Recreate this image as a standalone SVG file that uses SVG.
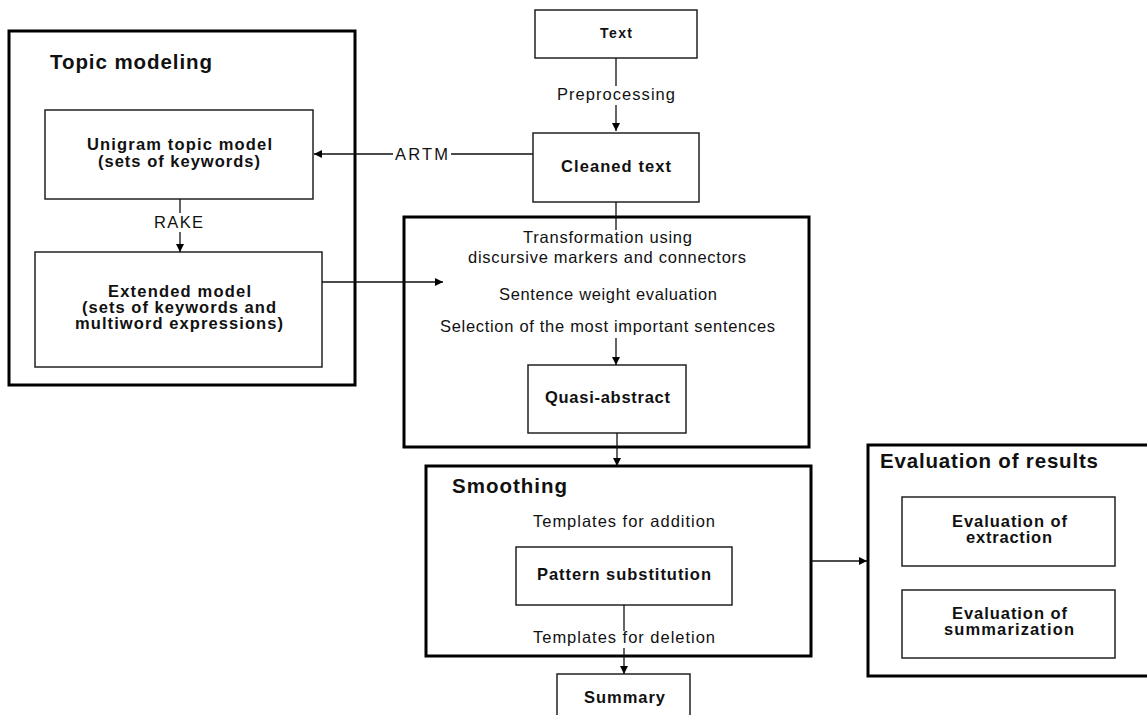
<svg xmlns="http://www.w3.org/2000/svg" width="1147" height="715" viewBox="0 0 1147 715">
<style>
text{font-family:"Liberation Sans",Arial,sans-serif;fill:#111}
.t{font-size:20.5px;font-weight:bold}
.b{font-size:16.5px;font-weight:bold;text-anchor:middle}
.bs{font-size:14px;font-weight:bold;text-anchor:middle}
.r{font-size:16.5px;text-anchor:middle}
.outer{fill:#fff;stroke:#000;stroke-width:3}
.box{fill:#fff;stroke:#222;stroke-width:1.5}
.c{fill:none;stroke:#111;stroke-width:1.3}
</style>
<defs>
<marker id="ah" viewBox="0 0 10 10" refX="10" refY="5" markerWidth="8" markerHeight="8" markerUnits="userSpaceOnUse" orient="auto">
<path d="M0,0 L10,5 L0,10 z" fill="#000"/>
</marker>
</defs>
<rect width="1147" height="715" fill="#fff"/>

<g id="topic-modeling">
<rect class="outer" x="9" y="31" width="346" height="354"/>
<text class="t" x="50" y="69" textLength="162" lengthAdjust="spacing">Topic modeling</text>
</g>
<g id="unigram">
<rect class="box" x="45" y="110" width="268" height="89"/>
<text class="b" x="179.5" y="150" textLength="185" lengthAdjust="spacing">Unigram topic model</text>
<text class="b" x="179" y="167" textLength="162" lengthAdjust="spacing">(sets of keywords)</text>
</g>
<g id="extended">
<rect class="box" x="35" y="252" width="287" height="115"/>
<text class="b" x="179.5" y="297" textLength="143" lengthAdjust="spacing">Extended model</text>
<text class="b" x="179" y="313" textLength="194" lengthAdjust="spacing">(sets of keywords and</text>
<text class="b" x="179" y="329" textLength="208" lengthAdjust="spacing">multiword expressions)</text>
</g>

<g id="text-node">
<rect class="box" x="535" y="10" width="162" height="48"/>
<text class="bs" x="616" y="38" textLength="32" lengthAdjust="spacing">Text</text>
</g>
<g id="cleaned">
<rect class="box" x="533" y="133" width="166" height="69"/>
<text class="b" x="616" y="172" textLength="110" lengthAdjust="spacing">Cleaned text</text>
</g>

<g id="transformation">
<rect class="outer" x="404" y="217" width="405" height="230"/>
<text class="r" x="607.5" y="243" textLength="169" lengthAdjust="spacing">Transformation using</text>
<text class="r" x="607" y="263" textLength="278" lengthAdjust="spacing">discursive markers and connectors</text>
<text class="r" x="608" y="300" textLength="218" lengthAdjust="spacing">Sentence weight evaluation</text>
<text class="r" x="607.5" y="332" textLength="335" lengthAdjust="spacing">Selection of the most important sentences</text>
</g>
<g id="quasi-abstract">
<rect class="box" x="528" y="365" width="158" height="68"/>
<text class="b" x="607.5" y="403" textLength="125" lengthAdjust="spacing">Quasi-abstract</text>
</g>

<g id="smoothing">
<rect class="outer" x="426" y="466" width="385" height="190"/>
<text class="t" x="452" y="493" textLength="115" lengthAdjust="spacing">Smoothing</text>
<text class="r" x="624" y="527" textLength="182" lengthAdjust="spacing">Templates for addition</text>
<text class="r" x="624" y="643" textLength="182" lengthAdjust="spacing">Templates for deletion</text>
</g>
<g id="pattern">
<rect class="box" x="516" y="547" width="216" height="58"/>
<text class="b" x="624" y="580" textLength="174" lengthAdjust="spacing">Pattern substitution</text>
</g>
<g id="summary">
<rect class="box" x="557" y="674" width="133" height="50"/>
<text class="b" x="624.5" y="703" textLength="81" lengthAdjust="spacing">Summary</text>
</g>

<g id="evaluation">
<rect class="outer" x="868" y="445" width="290" height="231"/>
<text class="t" x="880" y="468" textLength="218" lengthAdjust="spacing">Evaluation of results</text>
</g>
<g id="eval-extraction">
<rect class="box" x="902" y="497" width="213" height="69"/>
<text class="b" x="1009.5" y="527" textLength="115" lengthAdjust="spacing">Evaluation of</text>
<text class="b" x="1009" y="543" textLength="86" lengthAdjust="spacing">extraction</text>
</g>
<g id="eval-summarization">
<rect class="box" x="902" y="590" width="213" height="68"/>
<text class="b" x="1009.5" y="619" textLength="115" lengthAdjust="spacing">Evaluation of</text>
<text class="b" x="1009" y="635" textLength="130" lengthAdjust="spacing">summarization</text>
</g>

<g id="connectors">
<line class="c" x1="616" y1="58" x2="616" y2="86"/>
<line class="c" x1="616" y1="105" x2="616" y2="131" marker-end="url(#ah)"/>
<text class="r" x="616" y="100" textLength="118" lengthAdjust="spacing">Preprocessing</text>

<line class="c" x1="533" y1="154" x2="451" y2="154"/>
<line class="c" x1="393" y1="154" x2="314" y2="154" marker-end="url(#ah)"/>
<text class="r" x="421.5" y="160" textLength="53" lengthAdjust="spacing">ARTM</text>

<line class="c" x1="180" y1="199" x2="180" y2="213"/>
<line class="c" x1="180" y1="232" x2="180" y2="252" marker-end="url(#ah)"/>
<text class="r" x="178.5" y="228" textLength="49" lengthAdjust="spacing">RAKE</text>

<line class="c" x1="322" y1="282" x2="443" y2="282" marker-end="url(#ah)"/>
<line class="c" x1="616" y1="202" x2="616" y2="230"/>
<line class="c" x1="616" y1="338" x2="616" y2="365" marker-end="url(#ah)"/>
<line class="c" x1="617" y1="433" x2="617" y2="466" marker-end="url(#ah)"/>
<line class="c" x1="624" y1="605" x2="624" y2="631"/>
<line class="c" x1="624" y1="648" x2="624" y2="674" marker-end="url(#ah)"/>
<line class="c" x1="811" y1="561" x2="867" y2="561" marker-end="url(#ah)"/>
</g>
</svg>
